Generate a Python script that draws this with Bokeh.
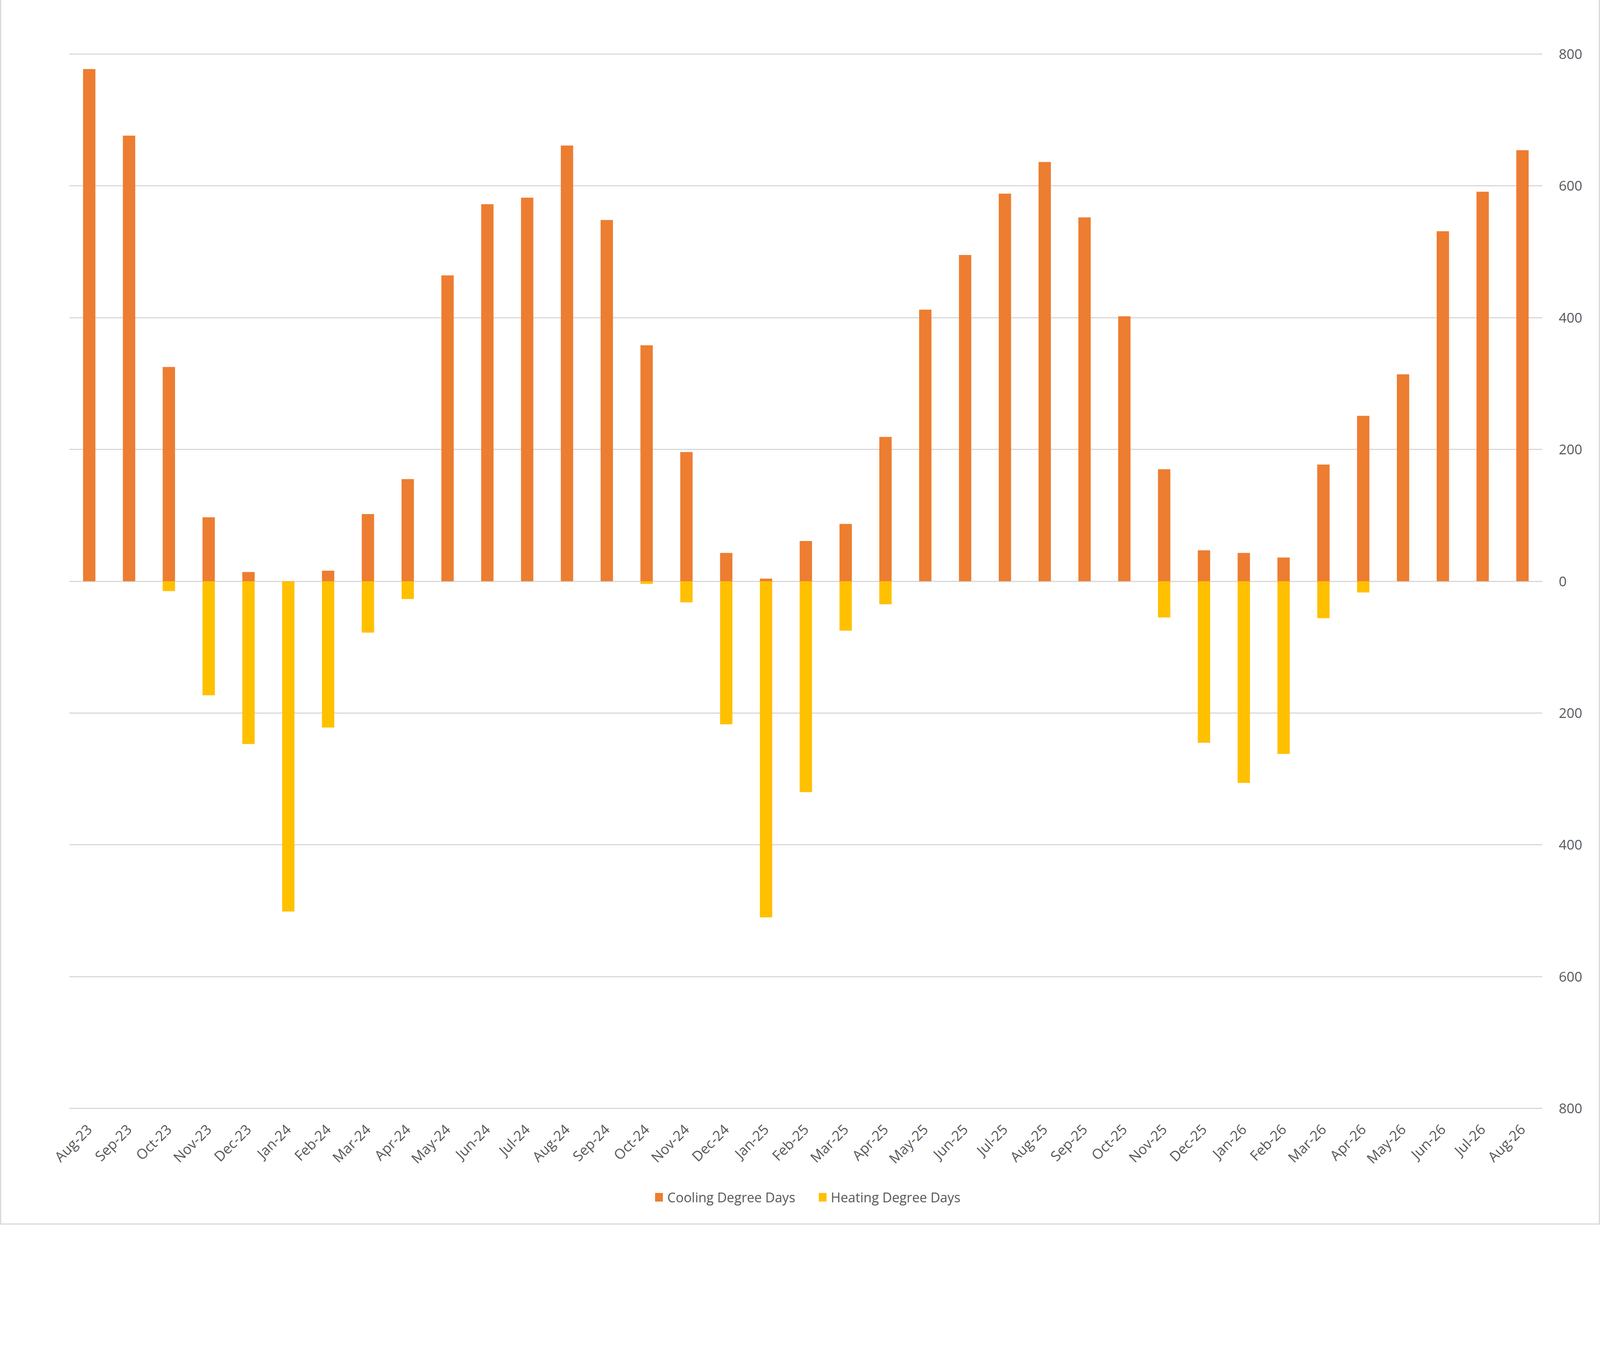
import math
from bokeh.plotting import figure
from bokeh.layouts import column
from bokeh.models import Range1d, FixedTicker, CustomJSTickFormatter, Div
from bokeh.embed import file_html
from bokeh.resources import INLINE

months = ["Aug-23", "Sep-23", "Oct-23", "Nov-23", "Dec-23", "Jan-24",
          "Feb-24", "Mar-24", "Apr-24", "May-24", "Jun-24", "Jul-24",
          "Aug-24", "Sep-24", "Oct-24", "Nov-24", "Dec-24", "Jan-25",
          "Feb-25", "Mar-25", "Apr-25", "May-25", "Jun-25", "Jul-25",
          "Aug-25", "Sep-25", "Oct-25", "Nov-25", "Dec-25", "Jan-26",
          "Feb-26", "Mar-26", "Apr-26", "May-26", "Jun-26", "Jul-26",
          "Aug-26"]

cooling = [777, 676, 325, 97, 14, 0, 16, 102, 155, 464, 572, 582,
           661, 548, 358, 196, 43, 4, 61, 87, 219, 412, 495, 588,
           636, 552, 402, 170, 47, 43, 36, 177, 251, 314, 531, 591,
           654]
heating = [0, 0, 15, 173, 247, 501, 222, 78, 27, 0, 0, 0,
           0, 0, 4, 32, 217, 510, 320, 75, 35, 0, 0, 0,
           0, 0, 0, 55, 245, 306, 262, 56, 17, 0, 0, 0,
           0]
heating_neg = [-h for h in heating]

series_names = ["Cooling Degree Days", "Heating Degree Days"]
y_ticks = [-800, -600, -400, -200, 0, 200, 400, 600, 800]

ORANGE = "#ED7D31"
YELLOW = "#FFC000"
TXT = "#595959"
GRID = "#D9D9D9"
FONT = "Open Sans"

p = figure(x_range=months, y_range=Range1d(-801.5, 801.5),
           width=4080, height=3010,
           output_backend="svg", toolbar_location=None,
           y_axis_location="right",
           min_border_left=174, min_border_right=135,
           min_border_top=135, min_border_bottom=170)
p.outline_line_color = None
p.background_fill_color = "white"

p.vbar(x=months, top=cooling, bottom=0, width=0.31,
       color=ORANGE, line_color=None)
p.vbar(x=months, top=0, bottom=heating_neg, width=0.31,
       color=YELLOW, line_color=None)

p.xgrid.grid_line_color = None
p.ygrid.grid_line_color = GRID
p.ygrid.grid_line_width = 3
p.yaxis.ticker = FixedTicker(ticks=y_ticks)
p.yaxis.formatter = CustomJSTickFormatter(code="return Math.abs(tick).toString()")

for ax in (p.xaxis[0], p.yaxis[0]):
    ax.axis_line_color = None
    ax.major_tick_line_color = None
    ax.minor_tick_line_color = None
    ax.major_label_text_color = TXT
    ax.major_label_text_font = FONT
    ax.major_label_text_font_size = "35px"

p.xaxis.major_label_text_font_size = "36px"
p.yaxis.major_label_standoff = 36
p.xaxis.major_label_orientation = math.pi / 4
p.xaxis.major_label_standoff = 38

# legend under the chart, centred on the plot frame
swatch = ('<span style="display:inline-block;width:20px;height:22px;'
          'background:{c};margin:0 11px 0 {m}px"></span><span>{t}</span>')
legend_html = (
    '<div style="display:flex;justify-content:center;align-items:center;'
    'width:4080px;height:100px;padding-left:40px;box-sizing:border-box;'
    f'font-family:\'{FONT}\';font-size:34px;color:{TXT};white-space:nowrap">'
    + swatch.format(c=ORANGE, m=0, t=series_names[0])
    + swatch.format(c=YELLOW, m=60, t=series_names[1])
    + '</div>')
legend_div = Div(text=legend_html, width=4080, height=112)

layout = column(p, legend_div, spacing=0)
layout.styles = {"border-left": "3px solid #D9D9D9",
                 "border-right": "3px solid #D9D9D9",
                 "border-bottom": "3px solid #D9D9D9"}

open("out.html", "w").write(file_html(layout, INLINE))
